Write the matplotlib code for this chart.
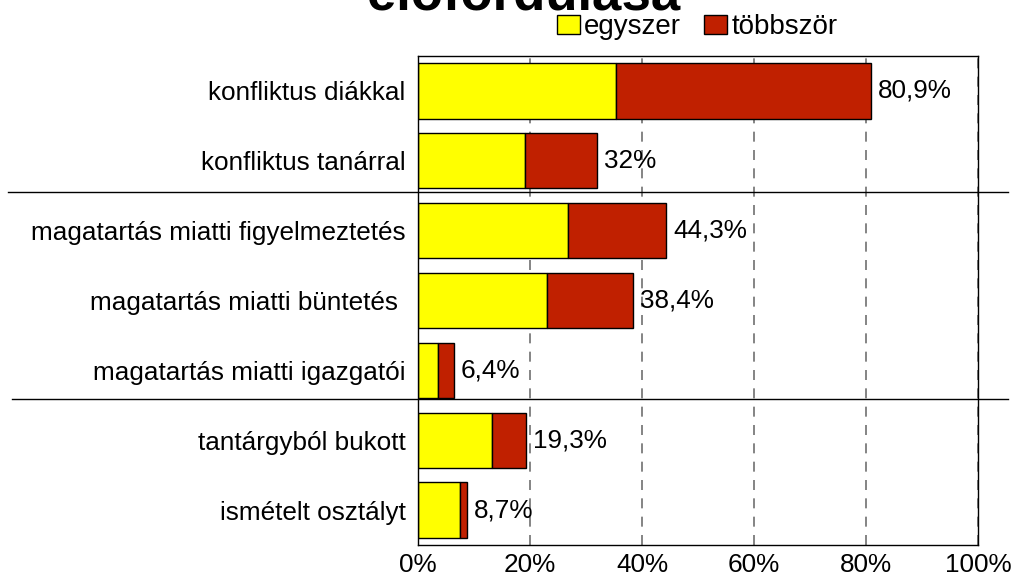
import matplotlib
matplotlib.use("Agg")
import matplotlib.pyplot as plt
from matplotlib.patches import Patch
from matplotlib.lines import Line2D
import matplotlib.transforms as mtransforms

categories = ["konfliktus diákkal", "konfliktus tanárral",
              "magatartás miatti figyelmeztetés", "magatartás miatti büntetés ",
              "magatartás miatti igazgatói", "tantárgyból bukott", "ismételt osztályt"]
egyszer = [35.4, 19.1, 26.8, 23.0, 3.6, 13.3, 7.5]
total = [80.9, 32.0, 44.3, 38.4, 6.4, 19.3, 8.7]
total_labels = ["80,9%", "32%", "44,3%", "38,4%", "6,4%", "19,3%", "8,7%"]
tobbszor = [t - e for t, e in zip(total, egyszer)]
xticks = [0, 20, 40, 60, 80, 100]
xtick_labels = ["0%", "20%", "40%", "60%", "80%", "100%"]

plt.rcParams['font.family'] = ['Liberation Sans', 'DejaVu Sans']
FS = 18.8

fig = plt.figure(figsize=(10.11, 5.76), dpi=100)
ax = fig.add_axes([418/1011, 1-545/576, (978-418)/1011, (545-56)/576])

ypos = list(range(len(categories)))
yellow = "#FFFF00"
red = "#C02000"
ax.barh(ypos, egyszer, height=0.79, color=yellow, edgecolor="black", linewidth=1, zorder=3)
ax.barh(ypos, tobbszor, left=egyszer, height=0.79, color=red, edgecolor="black", linewidth=1, zorder=3)

for y, t, lab in zip(ypos, total, total_labels):
    ax.annotate(lab, xy=(t, y), xytext=(5, 0), textcoords="offset points",
                va="center", ha="left", fontsize=FS, zorder=4)

ax.set_xlim(0, 100)
ax.set_ylim(len(categories) - 0.5, -0.5)
ax.set_xticks(xticks)
ax.set_xticklabels(xtick_labels, fontsize=FS)
ax.set_yticks(ypos)
ax.set_yticklabels(categories, fontsize=FS)
ax.tick_params(axis="both", length=0)
ax.tick_params(axis="y", pad=9)
ax.tick_params(axis="x", pad=6)
ax.grid(axis="x", color="#707070", linestyle=(0, (6, 5)), linewidth=1.2, zorder=0)
ax.grid(axis="y", visible=False)
for s in ax.spines.values():
    s.set_color("black")
    s.set_linewidth(1)
    s.set_zorder(6)

# separator lines
trans = mtransforms.blended_transform_factory(fig.transFigure, ax.transData)
for x0, yb in [(8/1011, 1.45), (12/1011, 4.41)]:
    ln = Line2D([x0, 1008/1011], [yb, yb], transform=trans, color="black",
                linewidth=1, clip_on=False, zorder=5)
    ax.add_line(ln)

fig.text(524/1011, 1-9/576, "előfordulása", ha="center", va="baseline",
         fontsize=38, fontweight="bold")

handles = [Patch(facecolor=yellow, edgecolor="black", label="egyszer"),
           Patch(facecolor=red, edgecolor="black", label="többször")]
fig.legend(handles=handles, loc="center", bbox_to_anchor=(697/1011, 1-27/576), ncol=2,
           frameon=False, fontsize=20, handlelength=0.85, handleheight=0.65,
           handletextpad=0.15, columnspacing=0.8, borderpad=0, borderaxespad=0)

fig.savefig("out.png", dpi=100)
